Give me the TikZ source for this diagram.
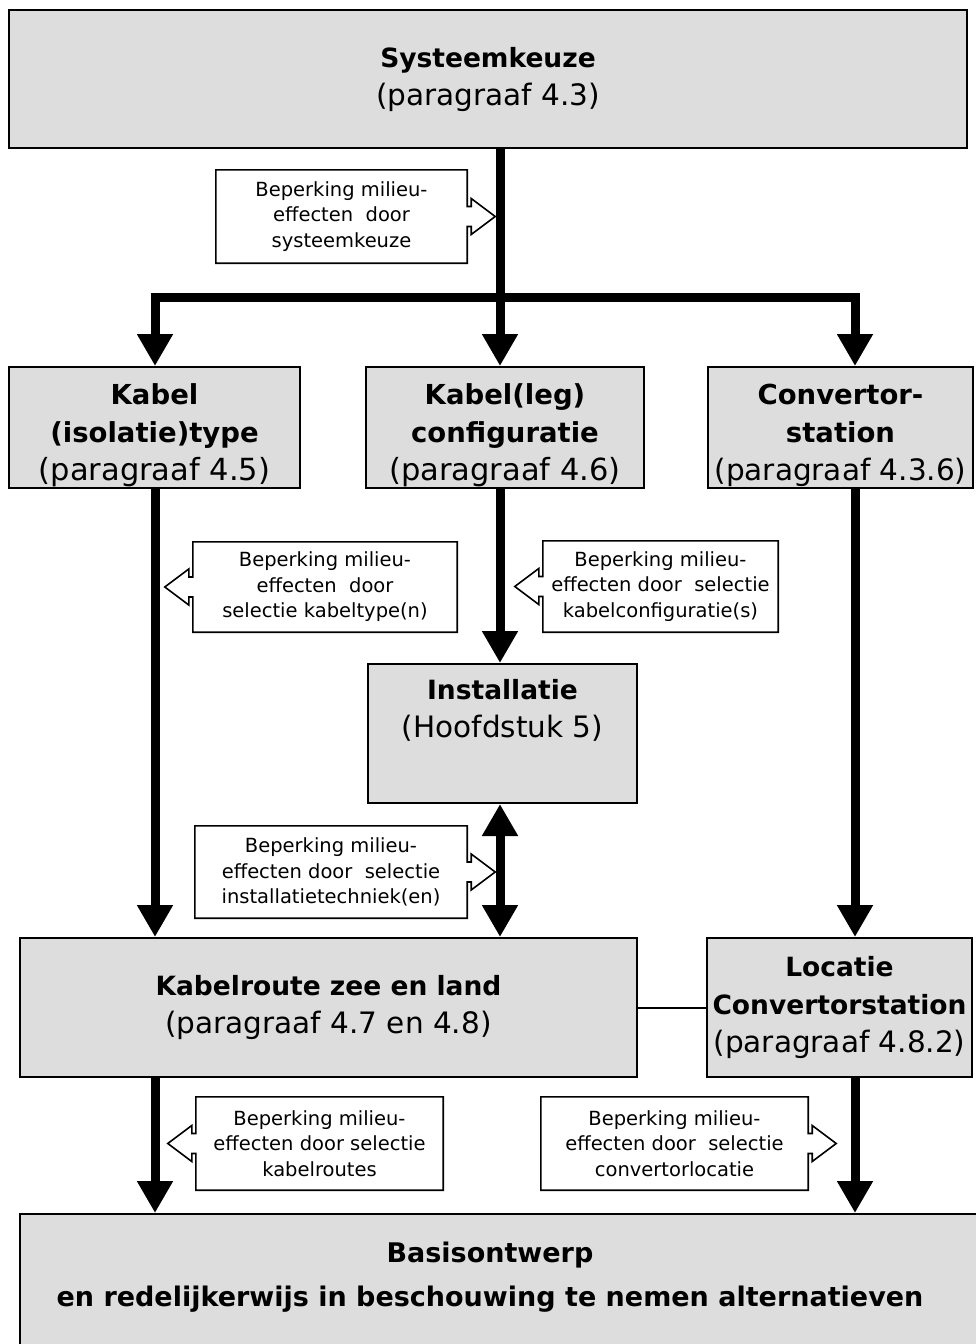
\documentclass[tikz,border=0pt]{standalone}
\usepackage{fontspec}
\setmainfont{DejaVu Sans}
\usetikzlibrary{arrows.meta,calc,backgrounds}

\definecolor{boxgray}{RGB}{221,221,221}
\newcommand{\boxfont}{\fontsize{29.5}{38}\selectfont}
\newcommand{\boxtitle}[1]{{\bfseries\fontsize{26.5}{38}\selectfont #1}}
\newcommand{\rowtitle}[1]{{\bfseries\fontsize{27.5}{38}\selectfont #1}}
\newcommand{\toplift}{\rule{0pt}{36pt}}
\newcommand{\callfont}{\fontsize{19.5}{25.5}\selectfont}

% callout outline with its pointer on the right / left side of a node
\newcommand{\pointright}[1]{%
  \draw[calloutline] (#1.north west) -- (#1.north east)
    -- ($(#1.east)+(0,-10)$) -- ++(4,0) -- ++(0,-8)
    -- ($(#1.east)+(28,0)$)
    -- ($(#1.east)+(4,18)$) -- ++(0,-8) -- ++(-4,0)
    -- (#1.south east) -- (#1.south west) -- cycle;}
\newcommand{\pointleft}[1]{%
  \draw[calloutline] (#1.north east) -- (#1.north west)
    -- ($(#1.west)+(0,-10)$) -- ++(-4,0) -- ++(0,-8)
    -- ($(#1.west)+(-28,0)$)
    -- ($(#1.west)+(-4,18)$) -- ++(0,-8) -- ++(4,0)
    -- (#1.south west) -- (#1.south east) -- cycle;}

\tikzset{
  box/.style={draw, line width=2pt, fill=boxgray, inner sep=0pt, align=center, font=\boxfont},
  calloutline/.style={draw, line width=1.6pt, fill=white, line join=miter},
  calltext/.style={inner sep=0pt, align=center, font=\callfont},
  bigarrow/.style={line width=9pt, -{Triangle[width=34pt,length=32pt]}},
  twoway/.style={line width=9pt, {Triangle[width=34pt,length=32pt]}-{Triangle[width=34pt,length=32pt]}},
  thinlink/.style={line width=2pt},
}

\begin{document}
\begin{tikzpicture}[x=1pt,y=-1pt]
\useasboundingbox (0,0) rectangle (975,1344);
\begin{scope}[on background layer]
  \fill[white] (0,0) rectangle (975,1344);
\end{scope}

% main boxes
\node[box, minimum width=958, minimum height=138] (top) at (488,79)
  {\boxtitle{Systeemkeuze}\\(paragraaf 4.3)};
\node[box, minimum width=291, minimum height=121] (kabel) at (154.5,427.5)
  {\toplift\rowtitle{Kabel}\\\rowtitle{(isolatie)type}\\{\fontsize{30.5}{38}\selectfont(paragraaf 4.5)}};
\node[box, minimum width=278, minimum height=121] (config) at (505,427.5)
  {\toplift\rowtitle{Kabel(leg)}\\\rowtitle{configuratie}\\{\fontsize{30.5}{38}\selectfont(paragraaf 4.6)}};
\node[box, minimum width=265, minimum height=121] (conv) at (840.5,427.5)
  {\toplift\rowtitle{Convertor-}\\\rowtitle{station}\\(paragraaf 4.3.6)};
\node[box, minimum width=269, minimum height=139] (inst) at (502.5,733.5)
  {\boxtitle{Installatie}\\(Hoofdstuk 5)\\\strut};
\node[box, minimum width=617, minimum height=139] (route) at (328.5,1007.5)
  {\boxtitle{Kabelroute zee en land}\\(paragraaf 4.7 en 4.8)};
\node[box, minimum width=265, minimum height=139] (loc) at (839.5,1007.5)
  {\boxtitle{Locatie}\\\boxtitle{Convertorstation}\\(paragraaf 4.8.2)};
\node[box, minimum width=965, minimum height=150] (basis) at (502.5,1289) {};
\node[font=\bfseries\fontsize{27}{44}\selectfont, align=center, inner sep=0pt] (basistext) at (490,1277)
  {Basisontwerp\\en redelijkerwijs in beschouwing te nemen alternatieven};

% branching points
\coordinate (split) at (500,297);
\coordinate (barL) at (155,297);
\coordinate (barR) at (855,297);

% connectors
\draw[bigarrow] (top.south -| split) -- (split |- config.north);
\draw[bigarrow] (split) -- (barL) -- (barL |- kabel.north);
\draw[bigarrow] (split) -- (barR) -- (barR |- conv.north);
\draw[bigarrow] (barL |- kabel.south) -- (barL |- route.north);
\draw[bigarrow] (split |- config.south) -- (split |- inst.north);
\draw[twoway] (split |- inst.south) -- (split |- route.north);
\draw[bigarrow] (barR |- conv.south) -- (barR |- loc.north);
\draw[bigarrow] (barL |- route.south) -- (barL |- basis.north);
\draw[bigarrow] (barR |- loc.south) -- (barR |- basis.north);
\draw[thinlink] (route.east) -- (loc.west);

% callouts
\node[calltext, minimum width=251, minimum height=93] (c1) at (341.5,216.5)
  {Beperking milieu-\\effecten\ \ door\\systeemkeuze};
\node[calltext, minimum width=264, minimum height=90] (c2) at (325,587)
  {Beperking milieu-\\effecten\ \ door\\selectie kabeltype(n)};
\node[calltext, minimum width=235, minimum height=91] (c3) at (660.5,586.5)
  {Beperking milieu-\\effecten door\ \ selectie\\kabelconfiguratie(s)};
\node[calltext, minimum width=272, minimum height=92] (c4) at (331,872)
  {Beperking milieu-\\effecten door\ \ selectie\\installatietechniek(en)};
\node[calltext, minimum width=247, minimum height=93] (c5) at (319.5,1143.5)
  {Beperking milieu-\\effecten door selectie\\kabelroutes};
\node[calltext, minimum width=267, minimum height=93] (c6) at (674.5,1143.5)
  {Beperking milieu-\\effecten door\ \ selectie\\convertorlocatie};

\begin{scope}[on background layer]
  \pointright{c1}
  \pointleft{c2}
  \pointleft{c3}
  \pointright{c4}
  \pointleft{c5}
  \pointright{c6}
\end{scope}
\end{tikzpicture}
\end{document}
